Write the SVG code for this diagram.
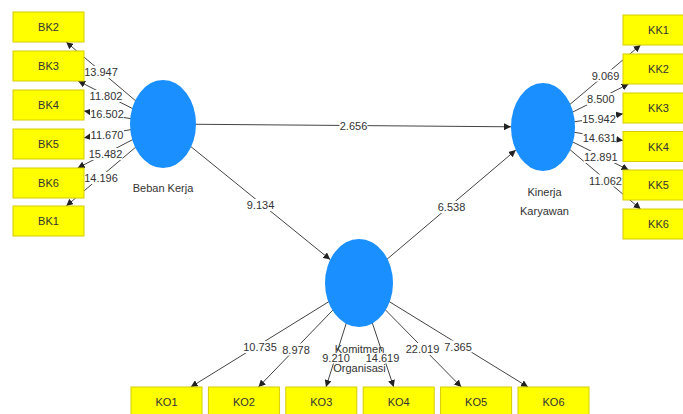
<svg xmlns="http://www.w3.org/2000/svg" width="683" height="414" viewBox="0 0 683 414">
<defs>
<marker id="arr" markerUnits="userSpaceOnUse" markerWidth="8" markerHeight="7" refX="7" refY="3.5" orient="auto">
<path d="M0,0 L7,3.5 L0,7 Z" fill="#222"/>
</marker>
<style>
.ln{stroke:#444;stroke-width:1;fill:none;marker-end:url(#arr)}
.lb{fill:#fff}
.t{font-family:"Liberation Sans",Arial,sans-serif;font-size:11px;fill:#333;text-anchor:middle}
.box{fill:#ffff00;stroke:#d6cc00;stroke-width:1}
.lv{fill:#1a8fff}
</style>
</defs>
<rect width="683" height="414" fill="#fff"/>
<g id="connectors">
<line class="ln" x1="163" y1="124" x2="66.2" y2="42"/>
<line class="ln" x1="163" y1="124" x2="78.2" y2="81"/>
<line class="ln" x1="163" y1="124" x2="84" y2="110.9"/>
<line class="ln" x1="163" y1="124" x2="84" y2="137.8"/>
<line class="ln" x1="163" y1="124" x2="77.6" y2="168"/>
<line class="ln" x1="163" y1="124" x2="66.2" y2="206"/>
<line class="ln" x1="543" y1="127" x2="640.6" y2="45"/>
<line class="ln" x1="543" y1="127" x2="628.6" y2="84"/>
<line class="ln" x1="543" y1="127" x2="623" y2="113.8"/>
<line class="ln" x1="543" y1="127" x2="623" y2="140.5"/>
<line class="ln" x1="543" y1="127" x2="628.6" y2="170"/>
<line class="ln" x1="543" y1="127" x2="640.6" y2="209"/>
<line class="ln" x1="359" y1="283" x2="190.8" y2="387"/>
<line class="ln" x1="359" y1="283" x2="258.5" y2="387"/>
<line class="ln" x1="359" y1="283" x2="326" y2="387"/>
<line class="ln" x1="359" y1="283" x2="393.7" y2="387"/>
<line class="ln" x1="359" y1="283" x2="461.3" y2="387"/>
<line class="ln" x1="359" y1="283" x2="528" y2="387"/>
<line class="ln" x1="163" y1="124" x2="511" y2="126.8"/>
<line class="ln" x1="163" y1="124" x2="330.2" y2="259.6"/>
<line class="ln" x1="359" y1="283" x2="515.8" y2="150.1"/>
<g id="labels">
<rect class="lb" x="84" y="66" width="34" height="12"/><text class="t" x="101" y="76">13.947</text>
<rect class="lb" x="89" y="90" width="34" height="12"/><text class="t" x="106" y="100">11.802</text>
<rect class="lb" x="90" y="108" width="34" height="12"/><text class="t" x="107" y="118">16.502</text>
<rect class="lb" x="90" y="128.5" width="34" height="12"/><text class="t" x="107" y="138.5">11.670</text>
<rect class="lb" x="88.5" y="148" width="34" height="12"/><text class="t" x="105.5" y="158">15.482</text>
<rect class="lb" x="84" y="172" width="34" height="12"/><text class="t" x="101" y="182">14.196</text>
<rect class="lb" x="591.5" y="69.5" width="28" height="12"/><text class="t" x="605.5" y="79.5">9.069</text>
<rect class="lb" x="586.8" y="93" width="28" height="12"/><text class="t" x="600.8" y="103">8.500</text>
<rect class="lb" x="582" y="112.8" width="34" height="12"/><text class="t" x="599" y="122.8">15.942</text>
<rect class="lb" x="582.5" y="131.5" width="34" height="12"/><text class="t" x="599.5" y="141.5">14.631</text>
<rect class="lb" x="583.8" y="151" width="34" height="12"/><text class="t" x="600.8" y="161">12.891</text>
<rect class="lb" x="588.5" y="174.5" width="34" height="12"/><text class="t" x="605.5" y="184.5">11.062</text>
<rect class="lb" x="243" y="341" width="34" height="12"/><text class="t" x="260" y="351">10.735</text>
<rect class="lb" x="282" y="343.5" width="28" height="12"/><text class="t" x="296" y="353.5">8.978</text>
<rect class="lb" x="322" y="351.5" width="28" height="12"/><text class="t" x="336" y="361.5">9.210</text>
<rect class="lb" x="365.5" y="351.5" width="34" height="12"/><text class="t" x="382.5" y="361.5">14.619</text>
<rect class="lb" x="405.5" y="343" width="34" height="12"/><text class="t" x="422.5" y="353">22.019</text>
<rect class="lb" x="444" y="340.5" width="28" height="12"/><text class="t" x="458" y="350.5">7.365</text>
<rect class="lb" x="339.5" y="120" width="28" height="12"/><text class="t" x="353.5" y="130">2.656</text>
<rect class="lb" x="246.5" y="199" width="28" height="12"/><text class="t" x="260.5" y="209">9.134</text>
<rect class="lb" x="437.5" y="201" width="28" height="12"/><text class="t" x="451.5" y="211">6.538</text>
</g>
</g>
<g id="BK2"><rect class="box" x="13" y="12" width="71" height="30"/><text class="t" x="48.5" y="31">BK2</text></g>
<g id="BK3"><rect class="box" x="13" y="51" width="71" height="30"/><text class="t" x="48.5" y="70">BK3</text></g>
<g id="BK4"><rect class="box" x="13" y="90" width="71" height="30"/><text class="t" x="48.5" y="109">BK4</text></g>
<g id="BK5"><rect class="box" x="13" y="129" width="71" height="30"/><text class="t" x="48.5" y="148">BK5</text></g>
<g id="BK6"><rect class="box" x="13" y="168" width="71" height="30"/><text class="t" x="48.5" y="187">BK6</text></g>
<g id="BK1"><rect class="box" x="13" y="206" width="71" height="30"/><text class="t" x="48.5" y="225">BK1</text></g>
<g id="KK1"><rect class="box" x="623" y="15" width="71" height="30"/><text class="t" x="658.5" y="34">KK1</text></g>
<g id="KK2"><rect class="box" x="623" y="54" width="71" height="30"/><text class="t" x="658.5" y="73">KK2</text></g>
<g id="KK3"><rect class="box" x="623" y="93" width="71" height="30"/><text class="t" x="658.5" y="112">KK3</text></g>
<g id="KK4"><rect class="box" x="623" y="131.5" width="71" height="30"/><text class="t" x="658.5" y="150.5">KK4</text></g>
<g id="KK5"><rect class="box" x="623" y="170" width="71" height="30"/><text class="t" x="658.5" y="189">KK5</text></g>
<g id="KK6"><rect class="box" x="623" y="209" width="71" height="30"/><text class="t" x="658.5" y="228">KK6</text></g>
<g id="KO1"><rect class="box" x="131" y="387" width="71" height="30"/><text class="t" x="166.5" y="406">KO1</text></g>
<g id="KO2"><rect class="box" x="208.4" y="387" width="71" height="30"/><text class="t" x="243.9" y="406">KO2</text></g>
<g id="KO3"><rect class="box" x="285.8" y="387" width="71" height="30"/><text class="t" x="321.3" y="406">KO3</text></g>
<g id="KO4"><rect class="box" x="363.2" y="387" width="71" height="30"/><text class="t" x="398.7" y="406">KO4</text></g>
<g id="KO5"><rect class="box" x="440.6" y="387" width="71" height="30"/><text class="t" x="476.1" y="406">KO5</text></g>
<g id="KO6"><rect class="box" x="518" y="387" width="71" height="30"/><text class="t" x="553.5" y="406">KO6</text></g>
<g id="BebanKerja"><ellipse class="lv" cx="163" cy="124" rx="33" ry="44"/><text class="t" x="163" y="192">Beban Kerja</text></g>
<g id="KinerjaKaryawan"><ellipse class="lv" cx="543" cy="127" rx="32" ry="44"/><text class="t" x="544.5" y="196">Kinerja</text><text class="t" x="544.5" y="215">Karyawan</text></g>
<g id="KomitmenOrganisasi"><ellipse class="lv" cx="359" cy="283" rx="34" ry="44"/><text class="t" x="359.5" y="353">Komitmen</text><text class="t" x="359.5" y="372">Organisasi</text></g>
</svg>
